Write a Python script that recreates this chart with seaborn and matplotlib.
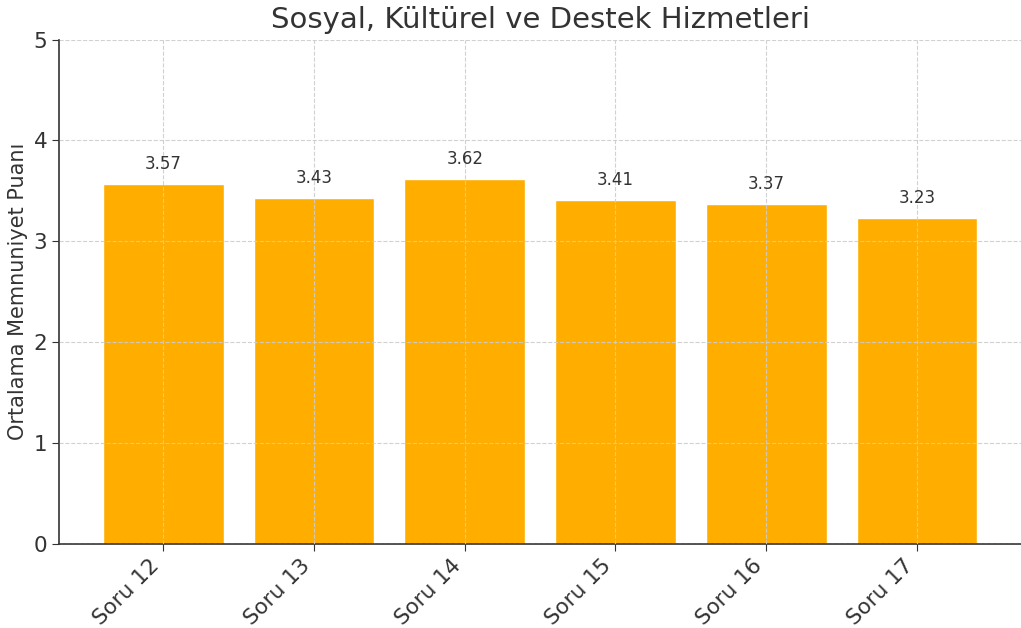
import matplotlib
matplotlib.use('Agg')
import matplotlib.pyplot as plt
import seaborn as sns
import pandas as pd

# veriler
sorular = ['Soru 12', 'Soru 13', 'Soru 14', 'Soru 15', 'Soru 16', 'Soru 17']
puanlar = [3.57, 3.43, 3.62, 3.41, 3.37, 3.23]

df = pd.DataFrame({'Soru': sorular, 'Puan': puanlar})

sns.set_style("white")
plt.rcParams['font.family'] = ['DejaVu Sans']
plt.rcParams['text.color'] = '#333333'

fig = plt.figure(figsize=(10.21, 6.28), dpi=100)
ax = fig.add_axes([0.058, 0.134, 0.942, 0.803])

sns.barplot(data=df, x='Soru', y='Puan', color='#FFAE00', saturation=1,
            width=0.8, ax=ax)

for p in ax.patches:
    ax.annotate(f'{p.get_height():.2f}',
                (p.get_x() + p.get_width() / 2., p.get_height()),
                ha='center', va='bottom', fontsize=12, color='#333333',
                xytext=(0, 8), textcoords='offset points')

ax.set_ylim(0, 5)
ax.set_xlim(-0.69, 5.69)
ax.set_axisbelow(False)
ax.grid(True, linestyle='--', color='#cccccc', linewidth=0.8, alpha=0.9)
ax.spines['right'].set_visible(False)
ax.spines['top'].set_visible(False)
for s in ['left', 'bottom']:
    ax.spines[s].set_color('#333333')
    ax.spines[s].set_linewidth(1.2)
ax.tick_params(axis='both', labelsize=15.5, colors='#333333', length=5,
               left=True, bottom=True)
plt.setp(ax.get_xticklabels(), rotation=45, ha='right')

ax.set_title('Sosyal, Kültürel ve Destek Hizmetleri', fontsize=21,
             color='#333333', pad=8)
ax.set_ylabel('Ortalama Memnuniyet Puanı', fontsize=15, color='#333333')
ax.set_xlabel('')

plt.savefig('out.png', dpi=100)
plt.close()
